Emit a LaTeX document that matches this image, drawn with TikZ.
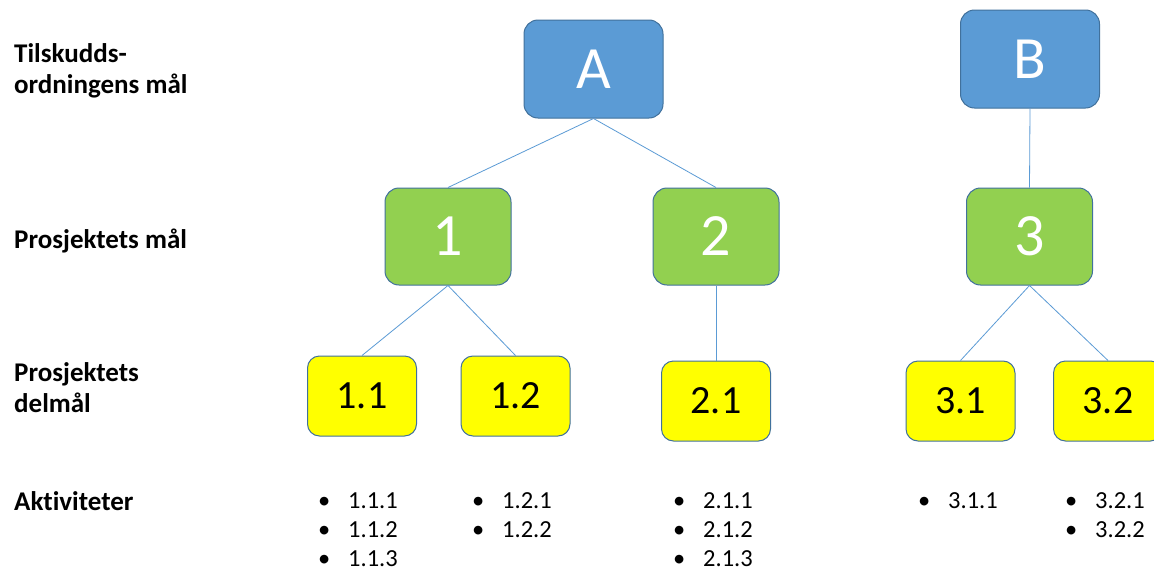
\documentclass[tikz,border=0pt]{standalone}
\usepackage{fontspec}
\setmainfont{Carlito}[Ligatures=NoCommon]

\definecolor{boxblue}{HTML}{5B9BD5}
\definecolor{boxgreen}{HTML}{92D050}
\definecolor{boxyellow}{HTML}{FFFF00}
\definecolor{edgeblue}{HTML}{41719C}
\definecolor{linkblue}{HTML}{5B9BD5}

\tikzset{
  goalbox/.style={draw=edgeblue, line width=1pt, rounded corners=14pt,
    minimum width=139pt, minimum height=98pt, inner sep=0pt,
    fill=boxblue, text=white, font=\fontsize{60}{60}\selectfont},
  projbox/.style={goalbox, fill=boxgreen, minimum width=126pt, minimum height=97pt},
  subbox/.style={draw=edgeblue, line width=1pt, rounded corners=12pt,
    fill=boxyellow, text=black, minimum width=109pt, minimum height=80pt,
    inner sep=0pt, font=\fontsize{40}{40}\selectfont},
  link/.style={draw=linkblue, line width=0.8pt},
  % the base anchor of a multi-line node sits on its last line
  rowlabel/.style={anchor=base west, align=left, inner sep=0pt,
    font=\fontsize{27}{31}\selectfont\bfseries},
  actlist/.style={anchor=base west, align=left, inner sep=0pt,
    font=\fontsize{24.5}{29}\selectfont},
}
\newcommand{\bul}[1]{\makebox[30pt][l]{•}#1}

\begin{document}
\begin{tikzpicture}[x=1pt, y=-1pt]
  \clip (0,0) rectangle (1154,570);
  \fill[white] (0,0) rectangle (1154,570);

  % level labels
  \node[rowlabel] (lvl1) at (14,93) {Tilskudds-\\ordningens mål};
  \node[rowlabel] (lvl2) at (14,248) {Prosjektets mål};
  \node[rowlabel] (lvl3) at (14,412) {Prosjektets\\delmål};
  \node[rowlabel] (lvl4) at (14,510) {Aktiviteter};

  % goals
  \node[goalbox] (A) at (593.5,69) {A};
  \node[goalbox] (B) at (1030,59) {B};

  \node[projbox] (P1) at (448,236.5) {1};
  \node[projbox] (P2) at (716,236.5) {2};
  \node[projbox] (P3) at (1029.5,236.5) {3};

  \node[subbox] (S11) at (362,396) {1.1};
  \node[subbox] (S12) at (515.5,396) {1.2};
  \node[subbox] (S21) at (716,401) {2.1};
  \node[subbox] (S31) at (960.5,401) {3.1};
  \node[subbox] (S32) at (1108,401) {3.2};

  % connectors
  \draw[link] (A.south) -- (P1.north);
  \draw[link] (A.south) -- (P2.north);
  \draw[link] (B.south) -- (P3.north);
  \draw[link] (P1.south) -- (S11.north);
  \draw[link] (P1.south) -- (S12.north);
  \draw[link] (P2.south) -- (S21.north);
  \draw[link] (P3.south) -- (S31.north);
  \draw[link] (P3.south) -- (S32.north);

  % activities
  \node[actlist] (T11) at (318,566) {\bul{1.1.1}\\\bul{1.1.2}\\\bul{1.1.3}};
  \node[actlist] (T12) at (472,537) {\bul{1.2.1}\\\bul{1.2.2}};
  \node[actlist] (T21) at (673,566) {\bul{2.1.1}\\\bul{2.1.2}\\\bul{2.1.3}};
  \node[actlist] (T31) at (918,508) {\bul{3.1.1}};
  \node[actlist] (T32) at (1065,537) {\bul{3.2.1}\\\bul{3.2.2}};
\end{tikzpicture}
\end{document}
